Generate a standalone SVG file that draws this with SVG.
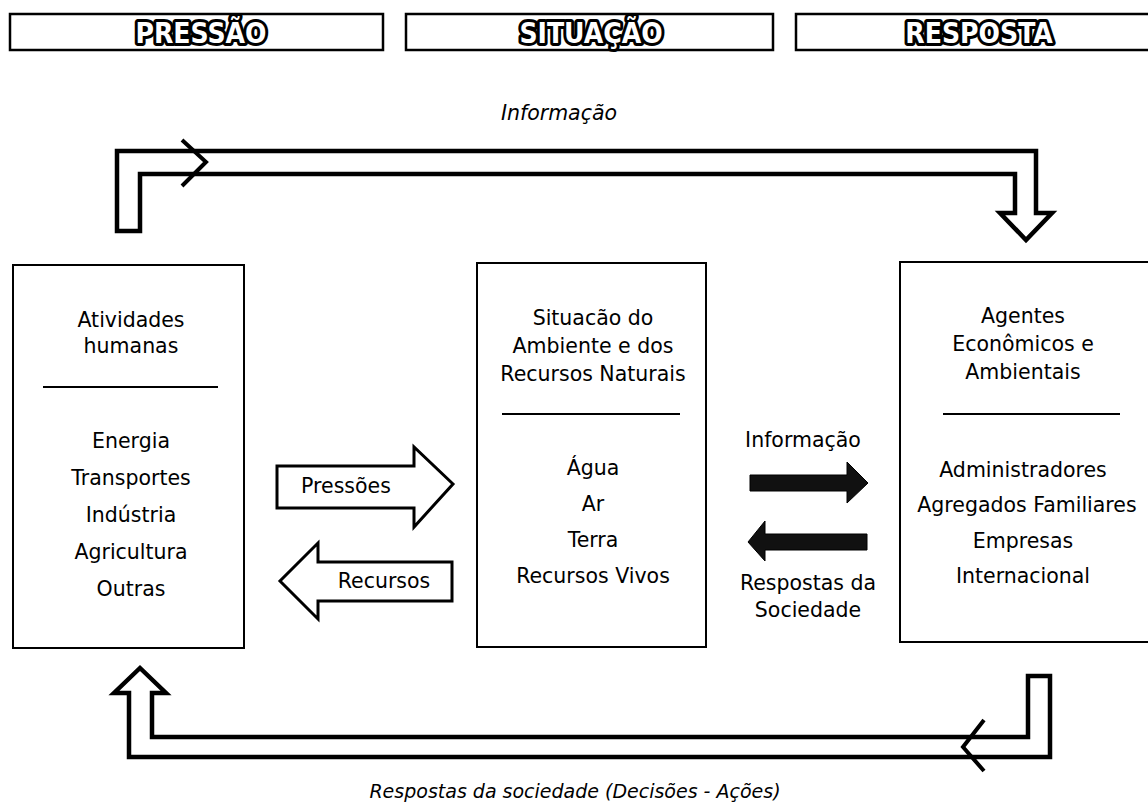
<svg xmlns="http://www.w3.org/2000/svg" width="1148" height="809" viewBox="0 0 1148 809">
<style>
.hdr{fill:#fff;stroke:#000;stroke-width:2.5}
.hl{font-family:"DejaVu Sans Condensed","DejaVu Sans",sans-serif;font-weight:bold;font-size:28px;fill:#fff;stroke:#000;stroke-width:6;paint-order:stroke;stroke-linejoin:round;text-anchor:middle}
.box{fill:#fff;stroke:#000;stroke-width:2}
.t{font-family:"DejaVu Sans",sans-serif;font-size:20.5px;fill:#000;text-anchor:middle}
.it{font-family:"DejaVu Sans",sans-serif;font-style:italic;font-size:20.5px;fill:#000;text-anchor:middle}
.div{stroke:#000;stroke-width:2}
.pipe{fill:#fff;stroke:#000;stroke-width:4.5;stroke-linejoin:miter}
.chev{fill:none;stroke:#000;stroke-width:4}
.hollow{fill:#fff;stroke:#000;stroke-width:3;stroke-linejoin:miter}
.solid{fill:#111;stroke:#000;stroke-width:1}
</style>

<g id="header-pressao">
<rect class="hdr" x="10" y="14" width="373" height="36"/>
<text class="hl" x="201" y="43">PRESSÃO</text>
</g>
<g id="header-situacao">
<rect class="hdr" x="406" y="14" width="367" height="36"/>
<text class="hl" x="591" y="43">SITUAÇÃO</text>
</g>
<g id="header-resposta">
<rect class="hdr" x="796" y="14" width="360" height="36"/>
<text class="hl" x="979" y="43">RESPOSTA</text>
</g>

<g id="connectors">
<path class="pipe" d="M117,231 V151 H1036 V213 H1052 L1026,240 L1000,213 H1015 V174 H140 V231 Z"/>
<polyline class="chev" points="182,140 206,162 182,186"/>
<text class="it" x="559" y="120">Informação</text>

<path class="pipe" d="M152,693 V737 H1028 V676 H1050 V757 H129 V693 H114 L140,668 L166,693 Z"/>
<polyline class="chev" points="984,720 963,747 984,771"/>
<text class="it" x="575" y="798" style="font-size:19px">Respostas da sociedade (Decisões - Ações)</text>

<path class="hollow" d="M277,466 H414 V447 L453,484 L414,527 V508 H277 Z"/>
<text class="t" x="346" y="493">Pressões</text>
<path class="hollow" d="M452,562 H318 V543 L280,581 L318,619 V601 H452 Z"/>
<text class="t" x="384" y="588">Recursos</text>

<text class="t" x="803" y="447">Informação</text>
<path class="solid" d="M750,475 H847 V462 L868,483 L847,503 V491 H750 Z"/>
<path class="solid" d="M867,534 H765 V521 L748,542 L765,561 V550 H867 Z"/>
<text class="t" x="808" y="590">Respostas da</text>
<text class="t" x="808" y="617">Sociedade</text>
</g>

<g id="node-atividades">
<rect class="box" x="13" y="265" width="231" height="383"/>
<text class="t" x="131" y="327">Atividades</text>
<text class="t" x="131" y="353">humanas</text>
<line class="div" x1="43" y1="387" x2="218" y2="387"/>
<text class="t" x="131" y="448">Energia</text>
<text class="t" x="131" y="485">Transportes</text>
<text class="t" x="131" y="522">Indústria</text>
<text class="t" x="131" y="559">Agricultura</text>
<text class="t" x="131" y="596">Outras</text>
</g>

<g id="node-situacao">
<rect class="box" x="477" y="263" width="229" height="384"/>
<text class="t" x="593" y="325">Situacão do</text>
<text class="t" x="593" y="353">Ambiente e dos</text>
<text class="t" x="593" y="381">Recursos Naturais</text>
<line class="div" x1="502" y1="414" x2="680" y2="414"/>
<text class="t" x="593" y="475">Água</text>
<text class="t" x="593" y="511">Ar</text>
<text class="t" x="593" y="547">Terra</text>
<text class="t" x="593" y="583">Recursos Vivos</text>
</g>

<g id="node-agentes">
<rect class="box" x="900" y="262" width="252" height="380"/>
<text class="t" x="1023" y="323">Agentes</text>
<text class="t" x="1023" y="351">Econômicos e</text>
<text class="t" x="1023" y="379">Ambientais</text>
<line class="div" x1="943" y1="414" x2="1120" y2="414"/>
<text class="t" x="1023" y="477">Administradores</text>
<text class="t" x="1027" y="512">Agregados Familiares</text>
<text class="t" x="1023" y="548">Empresas</text>
<text class="t" x="1023" y="583">Internacional</text>
</g>
</svg>
